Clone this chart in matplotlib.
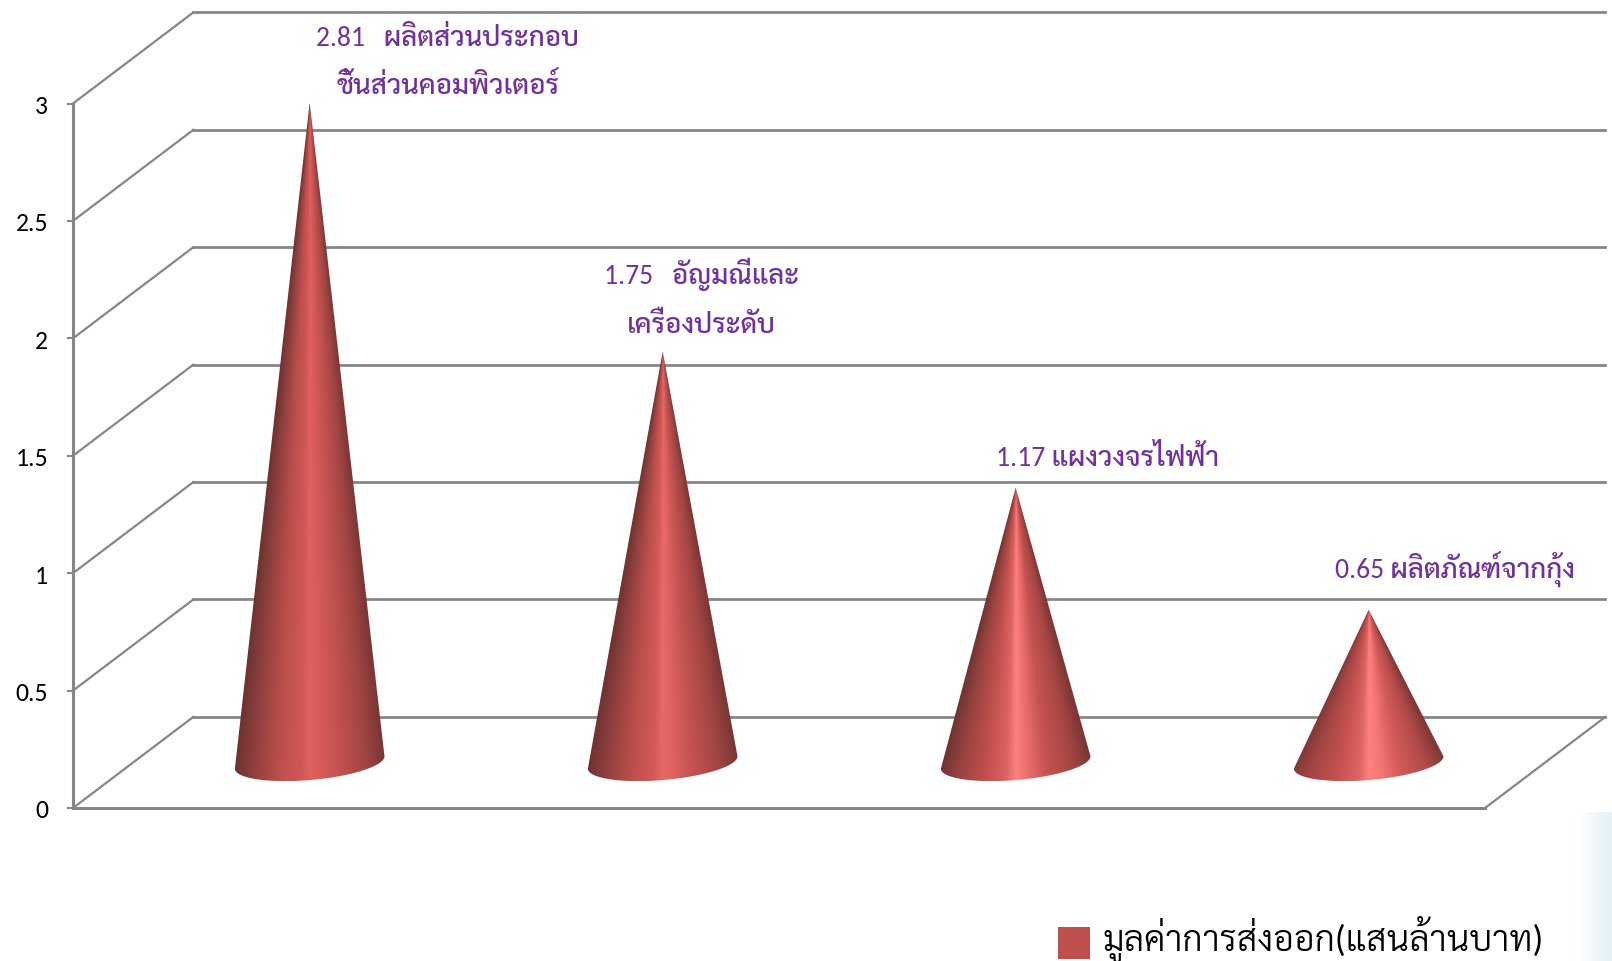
import matplotlib
matplotlib.use('Agg')
import matplotlib.pyplot as plt
from matplotlib.patches import Polygon, Rectangle
from matplotlib.colors import to_rgb
import numpy as np

FONTS = ['Carlito', 'Sarabun', 'DejaVu Sans']
GREY = '#868686'
PURPLE = '#7030a0'
RED = '#c0504d'

categories = ['ผลิตส่วนประกอบ\nชิ้นส่วนคอมพิวเตอร์', 'อัญมณีและ\nเครื่องประดับ', 'แผงวงจรไฟฟ้า', 'ผลิตภัณฑ์จากกุ้ง']
values = [2.81, 1.75, 1.17, 0.65]
value_labels = ['2.81   ', '1.75   ', '1.17 ', '0.65 ']
y_ticks = [0, 0.5, 1, 1.5, 2, 2.5, 3]
y_tick_labels = ['0', '0.5', '1', '1.5', '2', '2.5', '3']
series_name = 'มูลค่าการส่งออก(แสนล้านบาท)'

# oblique "3D" look: how far the back wall is shifted, in axis units
DEPTH_X = 0.341
DEPTH_Y = 0.388
CONE_W = 0.2
CONE_D = 0.41

# shading across each cone, left edge to right edge
shade_pos = [-1.0, -0.75, -0.4, -0.12, 0.0, 0.12, 0.4, 0.75, 1.0]
shade_cols = [
    ['#6c3230', '#8f403e', '#bd4f4c', '#cf5856', '#e06160', '#d85c5a', '#c25250', '#a04543', '#7a3634'],
    ['#6c3230', '#8f403e', '#bd4f4c', '#d25a58', '#e86a68', '#de6361', '#c25250', '#a04543', '#7a3634'],
    ['#6c3230', '#94423f', '#c04f4d', '#dc6462', '#ff8080', '#ee7270', '#c55351', '#a54644', '#7a3634'],
    ['#7a3634', '#a04543', '#c4514f', '#dd6563', '#ff8080', '#f57977', '#d25a58', '#ae4a48', '#7f3937'],
]
label_offsets = [(138, 41), (39, 55), (92, 31), (86, 41)]

plt.rcParams['font.family'] = FONTS

fig = plt.figure(figsize=(16.12, 9.62), dpi=100)
ax = fig.add_axes([73 / 1612, (962 - 809) / 962, 1412 / 1612, 704.5 / 962])

# walls and floor
for v in y_ticks:
    ax.plot([0, DEPTH_X], [v, v + DEPTH_Y], color=GREY, lw=1.6, clip_on=False, zorder=1)
    ax.plot([DEPTH_X, 4 + DEPTH_X], [v + DEPTH_Y, v + DEPTH_Y], color=GREY, lw=2.0,
            clip_on=False, zorder=1)
ax.plot([4, 4 + DEPTH_X], [0, DEPTH_Y], color=GREY, lw=1.6, clip_on=False, zorder=1)

# cones
for i, val in enumerate(values):
    cx = i + 0.5 + DEPTH_X / 2
    cy = DEPTH_Y / 2
    top = cy + val
    px_x = 353.0
    px_y = 234.5
    # silhouette: base circle seen obliquely, then up to the tip
    dx = CONE_D * DEPTH_X / 2
    dy = CONE_D * DEPTH_Y / 2
    t0 = np.arctan2(dx * px_x, CONE_W * px_x)
    t = np.linspace(np.pi + t0, 2 * np.pi + t0, 80)
    bx = cx + CONE_W * np.cos(t) + dx * np.sin(t)
    by = cy + dy * np.sin(t)
    outline = np.column_stack([np.r_[bx, cx], np.r_[by, top]])

    half = np.hypot(CONE_W, dx)
    ny = int(val * px_y) + 60
    ys = np.linspace(by.min(), top, ny)
    xs = np.linspace(cx - half, cx + half, 220)
    hw = np.maximum(half * (top - ys) / val, 1e-4)
    u = np.clip((xs[None, :] - cx) / hw[:, None], -1, 1)
    rgb = np.array([to_rgb(c) for c in shade_cols[i]])
    img = np.dstack([np.interp(u, shade_pos, rgb[:, k]) for k in range(3)])
    im = ax.imshow(img, extent=[xs[0], xs[-1], ys[0], ys[-1]], origin='lower', aspect='auto',
                   interpolation='bilinear', zorder=3)
    im.set_clip_path(Polygon(outline, closed=True, transform=ax.transData))

    ax.annotate(value_labels[i] + categories[i], xy=(cx, top), xytext=label_offsets[i],
                textcoords='offset pixels', ha='center', va='center', multialignment='center',
                color=PURPLE, fontsize=19.9, fontweight=500, linespacing=1.98,
                annotation_clip=False, zorder=5)

ax.set_xlim(0, 4)
ax.set_ylim(0, 3)
ax.set_xticks([])
ax.set_yticks(y_ticks)
ax.set_yticklabels(y_tick_labels)
ax.tick_params(axis='y', length=4.5, width=1.5, color=GREY, labelsize=18.5, pad=13.5,
               labelcolor='black')
ax.patch.set_alpha(0)
for s in ['top', 'right']:
    ax.spines[s].set_visible(False)
for s in ['left', 'bottom']:
    ax.spines[s].set_color(GREY)
    ax.spines[s].set_linewidth(2.2)
    ax.spines[s].set_zorder(2)

# pale slide background showing through at the corner
corner = fig.add_axes([1578 / 1612, 0, 34 / 1612, (962 - 813) / 962], zorder=0)
fade = np.linspace(0, 1, 34)[None, :, None]
corner.imshow(np.array(to_rgb('white')) * (1 - fade) + np.array(to_rgb('#e4f0f5')) * fade,
              aspect='auto')
corner.axis('off')

# legend sits low, its swatch is not centred on the text
fig.add_artist(Rectangle((1058 / 1612, 2 / 962), 32 / 1612, 32 / 962, transform=fig.transFigure,
                         facecolor=RED, edgecolor='none'))
fig.text(1103 / 1612, 11 / 962, series_name, color='black', fontsize=25.7, fontweight=300,
         ha='left', va='baseline')

fig.savefig('out.png', dpi=100)
